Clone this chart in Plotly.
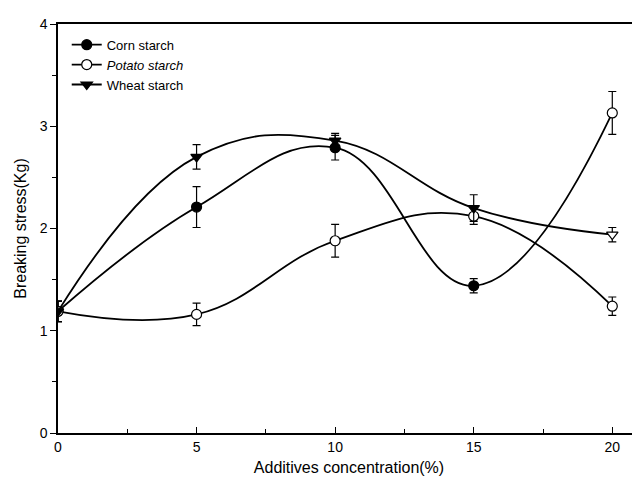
import plotly.graph_objects as go

conc = [0, 5, 10, 15, 20]

corn = [1.19, 2.21, 2.79, 1.44, 3.13]
corn_err = [0.1, 0.2, 0.12, 0.07, 0.21]

potato = [1.19, 1.16, 1.88, 2.12, 1.24]
potato_err = [0.1, 0.11, 0.16, 0.08, 0.09]

wheat = [1.19, 2.70, 2.86, 2.20, 1.94]
wheat_err = [0.1, 0.12, 0.07, 0.13, 0.07]

x_ticks = [0, 5, 10, 15, 20]
y_ticks = [0, 1, 2, 3, 4]

FONT = "Liberation Sans, Arial, sans-serif"

fig = go.Figure()

def add(name, y, err, symbol, fills):
    fig.add_trace(go.Scatter(
        x=conc, y=y, name=name, mode="lines+markers",
        line=dict(color="black", width=1.8, shape="spline", smoothing=1.2),
        marker=dict(symbol=symbol, size=10, color=fills,
                    line=dict(color="black", width=1.2)),
        error_y=dict(type="data", array=err, visible=True,
                     color="black", thickness=1.2, width=4),
    ))

add("Corn starch", corn, corn_err, "circle", ["black"] * 4 + ["white"])
add("<i>Potato starch</i>", potato, potato_err, "circle", ["white"] * 5)
add("Wheat starch", wheat, wheat_err, "triangle-down", ["black"] * 4 + ["white"])

fig.update_layout(
    width=640, height=497,
    margin=dict(l=50, r=8, t=8, b=72),
    paper_bgcolor="white", plot_bgcolor="white",
    font=dict(family=FONT, size=14, color="black"),
    showlegend=True,
    legend=dict(x=0.015, y=0.986, xanchor="left", yanchor="top",
                bgcolor="rgba(0,0,0,0)", font=dict(size=13, family=FONT),
                tracegroupgap=0, itemwidth=30),
    xaxis=dict(
        range=[0, 21], tickvals=x_ticks, ticktext=[str(v) for v in x_ticks],
        showgrid=False, zeroline=False, showline=True, linecolor="black",
        linewidth=1.5, mirror=True, ticks="inside", ticklen=6, tickcolor="black",
        minor=dict(dtick=2.5, ticks="inside", ticklen=4, tickcolor="black"),
        title=dict(text="Additives concentration(%)", font=dict(size=16), standoff=8),
        tickfont=dict(size=14),
    ),
    yaxis=dict(
        range=[0, 4], tickvals=y_ticks, ticktext=[str(v) for v in y_ticks],
        showgrid=False, zeroline=False, showline=True, linecolor="black",
        linewidth=1.5, ticks="outside", ticklen=6, tickcolor="black",
        minor=dict(dtick=0.5, ticks="outside", ticklen=4, tickcolor="black"),
        title=dict(text="Breaking stress(Kg)", font=dict(size=16), standoff=9),
        tickfont=dict(size=14),
    ),
)

fig.write_html("out.html")
